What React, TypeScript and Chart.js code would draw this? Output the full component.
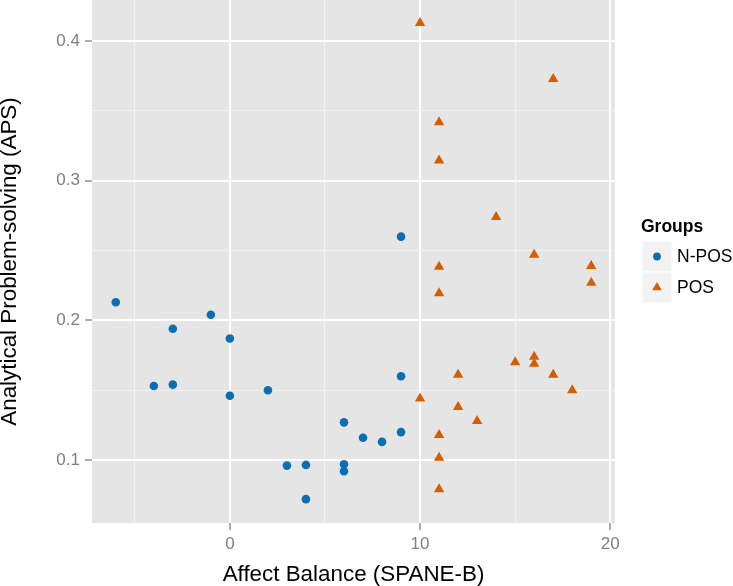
import React, { useEffect, useRef } from 'react';
import { Chart, registerables } from 'chart.js';

Chart.register(...registerables);

// ---- data ----
const groupNames = ['N-POS', 'POS'];
const legendTitle = 'Groups';
const xTitle = 'Affect Balance (SPANE-B)';
const yTitle = 'Analytical Problem-solving (APS)';

const nposX = [-6, -4, -3, -3, -1, 0, 0, 2, 3, 4, 4, 6, 6, 6, 7, 8, 9, 9, 9];
const nposY = [0.213, 0.153, 0.194, 0.154, 0.204, 0.187, 0.146, 0.15, 0.096, 0.0965, 0.072, 0.127, 0.097, 0.092, 0.116, 0.113, 0.26, 0.16, 0.12];

const posX = [10, 10, 11, 11, 11, 11, 11, 11, 11, 12, 12, 13, 14, 15, 16, 16, 16, 17, 17, 18, 19, 19];
const posY = [0.413, 0.144, 0.342, 0.3145, 0.2385, 0.2195, 0.118, 0.1017, 0.079, 0.161, 0.138, 0.128, 0.274, 0.17, 0.247, 0.174, 0.169, 0.373, 0.161, 0.15, 0.239, 0.227];

const xMajorTicks = [0, 10, 20];
const yMajorTicks = [0.1, 0.2, 0.3, 0.4];

// ---- style ----
const FAMILY = "'Liberation Sans', Arial, Helvetica, sans-serif";
const BLUE = '#0D6FB0';
const ORANGE = '#D55E00';
const PANEL = '#E5E5E5';
const MINOR = '#F2F2F2';
const TICK_GREY = '#7F7F7F';

const isIn = (arr: number[], v: number) => arr.some((m) => Math.abs(m - v) < 1e-6);

export default function App() {
  const ref = useRef<HTMLCanvasElement>(null);

  useEffect(() => {
    document.body.style.margin = '0';
    const canvas = ref.current!;

    const bgPlugin = {
      id: 'panelBg',
      beforeDraw(chart: any) {
        const { ctx, chartArea: a } = chart;
        ctx.save();
        ctx.fillStyle = PANEL;
        ctx.fillRect(a.left, a.top, a.right - a.left, a.bottom - a.top);
        ctx.restore();
      },
    };

    const legendPlugin = {
      id: 'ggLegend',
      afterDraw(chart: any) {
        const ctx = chart.ctx;
        ctx.save();
        ctx.textAlign = 'left';
        ctx.textBaseline = 'middle';
        ctx.fillStyle = '#000';
        ctx.font = `bold 17.5px ${FAMILY}`;
        ctx.fillText(legendTitle, 641, 227);
        const colors = [BLUE, ORANGE];
        groupNames.forEach((name, i) => {
          const y0 = 241 + i * 31;
          ctx.fillStyle = MINOR;
          ctx.fillRect(642, y0, 30, 31);
          ctx.strokeStyle = '#FFFFFF';
          ctx.lineWidth = 1;
          ctx.strokeRect(642, y0, 30, 31);
          const cx = 657;
          const cy = y0 + 15.5;
          ctx.fillStyle = colors[i];
          ctx.beginPath();
          if (i === 0) {
            ctx.arc(cx, cy, 3.9, 0, Math.PI * 2);
          } else {
            const r = 5.6;
            ctx.moveTo(cx, cy - r);
            ctx.lineTo(cx + r * Math.sin(Math.PI / 3), cy + r / 2);
            ctx.lineTo(cx - r * Math.sin(Math.PI / 3), cy + r / 2);
            ctx.closePath();
          }
          ctx.fill();
          ctx.fillStyle = '#000';
          ctx.font = `17.5px ${FAMILY}`;
          ctx.fillText(name, 677, cy + 0.5);
        });
        ctx.restore();
      },
    };

    const chart = new Chart(canvas, {
      type: 'scatter',
      data: {
        datasets: [
          {
            label: groupNames[0],
            data: nposX.map((x, i) => ({ x, y: nposY[i] })),
            pointStyle: 'circle',
            pointRadius: 4.3,
            pointBackgroundColor: BLUE,
            pointBorderWidth: 0,
            borderColor: BLUE,
            backgroundColor: BLUE,
          },
          {
            label: groupNames[1],
            data: posX.map((x, i) => ({ x, y: posY[i] })),
            pointStyle: 'triangle',
            pointRadius: 6,
            pointBackgroundColor: ORANGE,
            pointBorderWidth: 0,
            borderColor: ORANGE,
            backgroundColor: ORANGE,
          },
        ],
      },
      options: {
        responsive: false,
        animation: false,
        devicePixelRatio: 1,
        layout: { autoPadding: false, padding: { top: 0, right: 118, bottom: 0, left: 0 } },
        plugins: {
          legend: { display: false },
          tooltip: { enabled: false },
        },
        scales: {
          x: {
            type: 'linear',
            min: -7.25,
            max: 20.25,
            afterFit(s: any) {
              s.height = 63;
              s.paddingLeft = 0;
              s.paddingRight = 0;
            },
            ticks: {
              stepSize: 5,
              includeBounds: false,
              autoSkip: false,
              maxRotation: 0,
              minRotation: 0,
              padding: 4,
              color: TICK_GREY,
              font: { family: FAMILY, size: 17 },
              callback: (v: any) => (isIn(xMajorTicks, Number(v)) ? String(Number(v)) : ''),
            },
            grid: {
              color: (c: any) => (isIn(xMajorTicks, c.tick.value) ? '#FFFFFF' : MINOR),
              lineWidth: (c: any) => (isIn(xMajorTicks, c.tick.value) ? 2 : 1.1),
              drawTicks: true,
              tickLength: 7,
              tickWidth: 1.3,
              tickColor: (c: any) => (isIn(xMajorTicks, c.tick.value) ? TICK_GREY : 'rgba(0,0,0,0)'),
            },
            border: { display: false },
            title: {
              display: true,
              text: xTitle,
              color: '#000',
              font: { family: FAMILY, size: 22.4, lineHeight: 1.0 },
              padding: { top: 0, bottom: 0 },
            },
          },
          y: {
            type: 'linear',
            min: 0.0549,
            max: 0.4295,
            afterFit(s: any) {
              s.width = 92;
              s.paddingTop = 0;
              s.paddingBottom = 0;
            },
            ticks: {
              stepSize: 0.05,
              includeBounds: false,
              autoSkip: false,
              padding: 5,
              color: TICK_GREY,
              font: { family: FAMILY, size: 17 },
              callback: (v: any) => (isIn(yMajorTicks, Number(v)) ? Number(v).toFixed(1) : ''),
            },
            grid: {
              color: (c: any) => (isIn(yMajorTicks, c.tick.value) ? '#FFFFFF' : MINOR),
              lineWidth: (c: any) => (isIn(yMajorTicks, c.tick.value) ? 2 : 1.1),
              drawTicks: true,
              tickLength: 7,
              tickWidth: 1.3,
              tickColor: (c: any) => (isIn(yMajorTicks, c.tick.value) ? TICK_GREY : 'rgba(0,0,0,0)'),
            },
            border: { display: false },
            title: {
              display: true,
              text: yTitle,
              color: '#000',
              font: { family: FAMILY, size: 22.4, lineHeight: 0.9 },
              padding: { top: 0, bottom: 0 },
            },
          },
        },
      },
      plugins: [bgPlugin, legendPlugin],
    } as any);

    return () => chart.destroy();
  }, []);

  return (
    <canvas
      ref={ref}
      width={733}
      height={586}
      style={{ display: 'block', width: 733, height: 586 }}
    />
  );
}
